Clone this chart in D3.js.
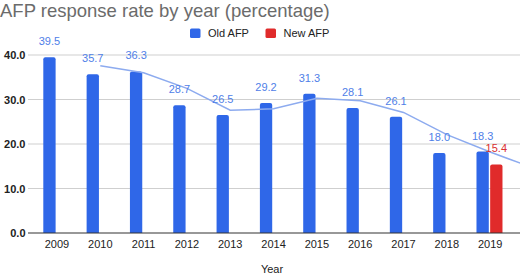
<!DOCTYPE html>
<html><head><meta charset="utf-8">
<script src="https://cdn.jsdelivr.net/npm/d3@7"></script>
<style>body{margin:0;background:#fff;}svg{display:block;font-family:"Liberation Sans",Arial,sans-serif;}</style>
</head><body><svg id="c" width="520" height="275"></svg>
<script>
const years = ["2009","2010","2011","2012","2013","2014","2015","2016","2017","2018","2019"];
const oldAFP = [39.5,35.7,36.3,28.7,26.5,29.2,31.3,28.1,26.1,18.0,18.3];
const newAFP = [null,null,null,null,null,null,null,null,null,null,15.4];
const trendYears = ["2010","2011","2012","2013","2014","2015","2016","2017","2018","2019","2020"];
const trendValues = [37.6,36.0,32.5,27.6,27.9,30.3,29.7,27.1,22.1,18.2,14.6];
const yTicks = [0,10,20,30,40];
const seriesNames = ["Old AFP","New AFP"];
const colors = {"Old AFP":"#2f67e8","New AFP":"#e02b2b"};
const labelColors = {"Old AFP":"#4f80e8","New AFP":"#d93030"};

const svg = d3.select("#c");
const x = d3.scaleBand().domain(years).range([35.3, 511.8]).paddingInner(0).paddingOuter(0);
const xs = d3.scaleBand().domain(seriesNames).range([8, 34]).paddingInner(0.1);
const y = d3.scaleLinear().domain([0,40]).range([233,55]);

// title
svg.append("text").attr("x",0).attr("y",17).attr("font-size",18.5).attr("fill","#6b6b6b")
  .text("AFP response rate by year (percentage)");

// legend
const lg = [{n:"Old AFP",x:190},{n:"New AFP",x:265.5}];
lg.forEach(d=>{
  svg.append("rect").attr("x",d.x).attr("y",28.5).attr("width",10.5).attr("height",9.5).attr("rx",1.5).attr("fill",colors[d.n]);
  svg.append("text").attr("x",d.x+18).attr("y",37).attr("font-size",11).attr("fill","#222").text(d.n);
});

// grid
svg.append("g").selectAll("line").data(yTicks.filter(t=>t>0)).join("line")
  .attr("x1",28).attr("x2",520).attr("y1",d=>y(d)).attr("y2",d=>y(d))
  .attr("stroke","#cfcfcf").attr("stroke-width",1);

// y axis labels
const yAxis = d3.axisLeft(y).tickValues(yTicks).tickFormat(d3.format(".1f")).tickSize(0).tickPadding(0);
const ya = svg.append("g").attr("transform","translate(25.5,0)").call(yAxis);
ya.select(".domain").remove();
ya.selectAll("text").attr("font-size",11).attr("fill","#222").attr("font-family","Liberation Sans, Arial, sans-serif").attr("font-weight","bold").attr("dy","0.35em");

// bars
const rows = years.map((yr,i)=>({year:yr, vals:[{s:"Old AFP",v:oldAFP[i]},{s:"New AFP",v:newAFP[i]}]}));
const g = svg.append("g");
rows.forEach(r=>{
  r.vals.filter(d=>d.v!=null).forEach(d=>{
    const bx = x(r.year)+xs(d.s);
    g.append("path").attr("fill",colors[d.s]).attr("d",()=>{
      const w=xs.bandwidth(), t=y(d.v), b=y(0), rr=2;
      return `M${bx},${b}V${t+rr}Q${bx},${t} ${bx+rr},${t}H${bx+w-rr}Q${bx+w},${t} ${bx+w},${t+rr}V${b}Z`;
    });
  });
});

// baseline
svg.append("line").attr("x1",28).attr("x2",520).attr("y1",y(0)).attr("y2",y(0)).attr("stroke","#333").attr("stroke-width",1.2);

// trend line
const step = x.step();
const tx = yr => years.includes(yr) ? x(yr)+x.bandwidth()/2 : x(years[years.length-1])+x.bandwidth()/2 + step*(+yr - +years[years.length-1]);
svg.append("defs").append("clipPath").attr("id","clip").append("rect").attr("x",0).attr("y",0).attr("width",520).attr("height",275);
svg.append("path").attr("clip-path","url(#clip)")
  .datum(trendYears.map((yr,i)=>[tx(yr), y(trendValues[i])]))
  .attr("d", d3.line()).attr("fill","none").attr("stroke","#8dabef").attr("stroke-width",1.5);

// data labels
rows.forEach(r=>{
  r.vals.filter(d=>d.v!=null).forEach(d=>{
    svg.append("text").attr("x",x(r.year)+xs(d.s)+xs.bandwidth()/2).attr("y",y(d.v)-12)
      .attr("text-anchor","middle").attr("font-size",11).attr("fill",labelColors[d.s]).text(d.v.toFixed(1));
  });
});

// x labels
const xAxis = d3.axisBottom(x).tickSize(0).tickPadding(0);
const xa = svg.append("g").attr("transform",`translate(0,${y(0)})`).call(xAxis);
xa.select(".domain").remove();
xa.selectAll("text").attr("font-size",11).attr("fill","#222").attr("font-family","Liberation Sans, Arial, sans-serif").attr("y",15).attr("dy",0);

svg.append("text").attr("x",272).attr("y",273).attr("text-anchor","middle").attr("font-size",11).attr("fill","#222").text("Year");
</script></body></html>
